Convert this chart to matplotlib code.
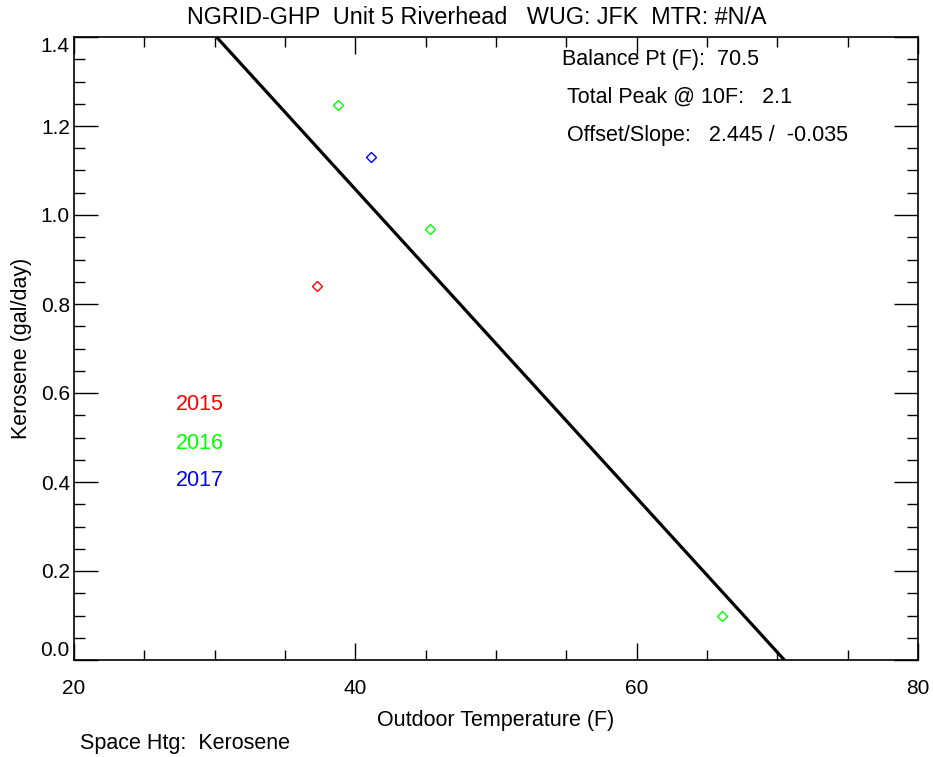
import matplotlib
matplotlib.use("Agg")
import matplotlib.pyplot as plt
from matplotlib.ticker import MultipleLocator, FixedLocator
import numpy as np

plt.rcParams['font.family'] = ['Liberation Sans', 'DejaVu Sans']

years = ["2015", "2016", "2017"]
year_colors = ["#ff0000", "#00ff00", "#0000ff"]
temps = [37.3, 38.8, 41.1, 45.3, 66.1]
kerosene = [0.84, 1.247, 1.130, 0.968, 0.099]
point_year = ["2015", "2016", "2017", "2016", "2016"]
balance_pt = 70.5
offset = 2.445
slope = -0.035
total_peak = 2.1
xticks = [20, 40, 60, 80]
yticks = [0.0, 0.2, 0.4, 0.6, 0.8, 1.0, 1.2, 1.4]

fig = plt.figure(figsize=(9.33, 7.57), dpi=100)
ax = fig.add_axes([74/933, 1-660/757, (918-74)/933, (660-37)/757])

color_map = dict(zip(years, year_colors))
for t, k, yr in zip(temps, kerosene, point_year):
    ax.plot([t], [k], marker='D', markersize=5.5, markerfacecolor='none',
            markeredgecolor=color_map[yr], markeredgewidth=1.0, linestyle='none')

xs = np.array([20.0, balance_pt])
line_slope = -offset / balance_pt
ax.plot(xs, offset + line_slope * xs, color='black', linewidth=2.3)

ax.set_xlim(20, 80)
ax.set_ylim(0, 1.4)
ax.xaxis.set_major_locator(FixedLocator(xticks))
ax.xaxis.set_minor_locator(MultipleLocator(5))
ax.yaxis.set_major_locator(FixedLocator(yticks))
ax.yaxis.set_minor_locator(MultipleLocator(0.05))
ax.yaxis.set_major_formatter(matplotlib.ticker.FormatStrFormatter('%.1f'))
ax.tick_params(which='both', direction='in', top=True, right=True, labelsize=15)
ax.tick_params(axis='x', which='major', length=12, width=1, pad=14)
ax.tick_params(axis='x', which='minor', length=7, width=1)
ax.tick_params(axis='y', which='major', length=17, width=1, pad=3)
ax.tick_params(axis='y', which='minor', length=8, width=1)
for s in ax.spines.values():
    s.set_linewidth(1.2)

ticks = ax.yaxis.get_major_ticks()
ticks[0].label1.set_va('bottom')
ticks[-1].label1.set_va('top')

ax.set_xlabel("Outdoor Temperature (F)", fontsize=15.5, labelpad=8)
ax.set_ylabel("Kerosene (gal/day)", fontsize=15.5, labelpad=6)

fig.text(477/933, 1-18/757, "NGRID-GHP  Unit 5 Riverhead   WUG: JFK  MTR: #N/A",
         ha='center', va='center', fontsize=16.8)

fig.text(562/933, 1-59/757, "Balance Pt (F):  %.1f" % balance_pt, ha='left', va='center', fontsize=15.5)
fig.text(567/933, 1-97/757, "Total Peak @ 10F:   %.1f" % total_peak, ha='left', va='center', fontsize=15.5)
fig.text(567/933, 1-135/757, "Offset/Slope:   %.3f /  %.3f" % (offset, slope), ha='left', va='center', fontsize=15.5)

for i, (yr, c) in enumerate(zip(years, year_colors)):
    fig.text(176/933, 1-(405+38*i)/757, yr, color=c, ha='left', va='center', fontsize=15.5)

fig.text(80/933, 1-743/757, "Space Htg:  Kerosene", ha='left', va='center', fontsize=15.5)

fig.savefig("out.png", dpi=100)
